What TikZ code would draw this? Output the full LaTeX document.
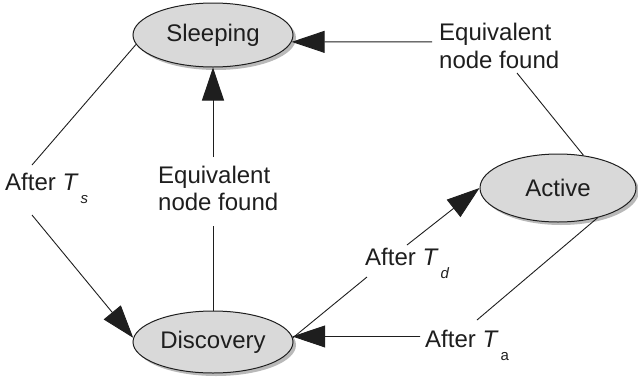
\documentclass[tikz,border=0pt]{standalone}
\usepackage{fontspec}
\setmainfont{Liberation Sans}
\usetikzlibrary{arrows.meta,shapes.geometric,shadows}

\definecolor{statefill}{RGB}{217,217,217}
\definecolor{ink}{RGB}{30,30,30}

\tikzset{
  state/.style={ellipse, draw=ink, line width=1pt, fill=statefill,
    inner sep=0pt, font=\fontsize{24}{27}\selectfont, text=ink,
    drop shadow={shadow xshift=3pt, shadow yshift=-3pt, fill=black!55}},
  lbl/.style={inner sep=0pt, font=\fontsize{24}{27}\selectfont, text=ink},
  link/.style={draw=ink, line width=0.9pt},
  arr/.style={link, -{Triangle[length=33pt,width=22pt]}}
}

% subscript of a timer name, set below the baseline
\newcommand{\timersub}[1]{\hspace{2pt}\raisebox{-13pt}{\fontsize{15}{15}\selectfont #1}}

\begin{document}
\begin{tikzpicture}[x=1pt,y=-1pt]
  \useasboundingbox (0,0) rectangle (638,381);

  % states
  \node[state, minimum width=160pt, minimum height=64pt] (sl) at (213,35) {Sleeping};
  \node[state, minimum width=156pt, minimum height=68pt] (ac) at (558,188) {Active};
  \node[state, minimum width=160pt, minimum height=62pt] (dc) at (213,342) {Discovery};

  % transition labels
  \node[lbl, anchor=base west] (ts) at (5,190) {After \textit{T}\timersub{\textit{s}}};
  \node[lbl, anchor=base west] (eqm1) at (158,183) {Equivalent};
  \node[lbl, anchor=base west] (eqm2) at (158,210) {node found};
  \node[lbl, anchor=base west] (eqr1) at (439,40) {Equivalent};
  \node[lbl, anchor=base west] (eqr2) at (439,68) {node found};
  \node[lbl, anchor=base west] (td) at (365,265) {After \textit{T}\timersub{\textit{d}}};
  \node[lbl, anchor=base west] (ta) at (425,347) {After \textit{T}\timersub{a}};

  % line ends next to the labels
  \coordinate (tsN) at (32,165);
  \coordinate (tsS) at (32,215);
  \coordinate (eqmN) at (213,157);
  \coordinate (eqmS) at (213,226);
  \coordinate (eqrW) at (432,41.8);
  \coordinate (eqrS) at (517,73);
  \coordinate (tdS) at (367,277);
  \coordinate (tdN) at (407,245);
  \coordinate (taW) at (420,336.5);
  \coordinate (taN) at (477,320);

  % Sleeping -> Discovery
  \draw[link] (sl.187) -- (tsN);
  \draw[arr] (tsS) -- (dc.177);

  % Discovery -> Sleeping
  \draw[link] (dc.north) -- (eqmS);
  \draw[arr] (eqmN) -- (sl.south);

  % Active -> Sleeping
  \draw[link] (ac.52) -- (eqrS);
  \draw[arr] (eqrW) -- (sl.-5);

  % Discovery -> Active
  \draw[link] (dc.3) -- (tdS);
  \draw[arr] (tdN) -- (ac.west);

  % Active -> Discovery
  \draw[link] (ac.-37) -- (taN);
  \draw[arr] (taW) -- (dc.4);
\end{tikzpicture}
\end{document}
